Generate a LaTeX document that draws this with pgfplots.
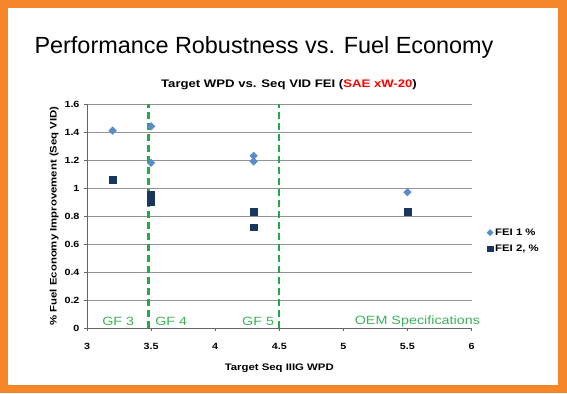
\documentclass[border=0pt]{standalone}
\usepackage{fontspec}
\setmainfont{Liberation Sans}
\newfontfamily\wide{Liberation Sans}[FakeStretch=1.2]
\usepackage{pgfplots}
\pgfplotsset{compat=1.18}
\definecolor{frameorange}{HTML}{F5862A}
\definecolor{feione}{HTML}{5B8BC9}
\definecolor{feitwo}{HTML}{17375E}
\definecolor{gfgreen}{HTML}{22AA4A}
\definecolor{gftext}{HTML}{3DB35A}
\begin{document}
\begin{tikzpicture}[x=1bp,y=1bp]
\fill[frameorange] (0,0) rectangle (567,393);
\fill[white] (8,8) rectangle (558,385);
\node[font=\fontsize{23.5}{26}\selectfont] at (264,346) {Performance Robustness vs. Fuel Economy};
\node[font=\fontsize{11}{12}\selectfont\wide\bfseries] at (289,308) {Target WPD vs. Seq VID FEI (\textcolor{red}{SAE xW-20})};
\begin{axis}[
  at={(87bp,65bp)}, anchor=south west,
  scale only axis, width=384.5bp, height=224bp,
  xmin=3, xmax=6, ymin=0, ymax=1.6,
  xtick={3,3.5,...,6}, ytick={0,0.2,...,1.6},
  xticklabels={3,3.5,4,4.5,5,5.5,6},
  yticklabels={0,0.2,0.4,0.6,0.8,1,1.2,1.4,1.6},
  axis x line*=bottom, axis y line*=left,
  axis line style={gray!80!black, line width=0.6pt},
  tick align=outside, major tick length=3bp,
  tick style={gray!80!black, line width=0.6pt},
  ymajorgrids, grid style={gray!85, line width=0.6pt},
  /pgf/number format/assume math mode=true,
  ticklabel style={font=\fontsize{9}{10}\selectfont\wide\bfseries},
  xticklabel style={yshift=-9bp},
  yticklabel style={xshift=-1bp},
  xlabel={Target Seq IIIG WPD},
  ylabel={\% Fuel Economy Improvement (Seq VID)},
  label style={font=\fontsize{9.5}{10}\selectfont\wide\bfseries},
  xlabel style={yshift=-7bp},
  ylabel style={yshift=-1bp},
  legend style={at={(1.04,0.39)}, anchor=west, draw=none, fill=none,
    font=\fontsize{9.5}{10}\selectfont\wide\bfseries, row sep=4bp,
    legend cell align=left, inner sep=0pt,
    nodes={inner xsep=2bp}},
  legend image post style={scale=0.8},
  clip=false,
]
\addplot[only marks, mark=square*, mark options={rotate=45}, mark size=2.7bp, color=feione] coordinates {
 (3.2,1.41) (3.5,1.44) (3.5,1.18) (4.3,1.23) (4.3,1.19) (5.5,0.97)};
\addlegendentry{FEI 1 \%}
\addplot[only marks, mark=square*, mark size=3.4bp, color=feitwo] coordinates {
 (3.2,1.06) (3.5,0.95) (3.5,0.92) (3.5,0.90) (4.3,0.83) (4.3,0.72) (5.5,0.83)};
\addlegendentry{FEI 2, \%}
\addplot[gfgreen, line width=2.3bp, dash pattern=on 7bp off 4bp, forget plot] coordinates {(3.48,0) (3.48,1.6)};
\addplot[gfgreen, line width=2.3bp, dash pattern=on 7bp off 4bp, forget plot] coordinates {(4.5,0) (4.5,1.6)};
\node[gftext, font=\fontsize{12}{13}\selectfont\wide] at (axis cs:3.244,0.047) {GF 3};
\node[gftext, font=\fontsize{12}{13}\selectfont\wide] at (axis cs:3.657,0.047) {GF 4};
\node[gftext, font=\fontsize{12}{13}\selectfont\wide] at (axis cs:4.335,0.047) {GF 5};
\node[gftext, font=\fontsize{12}{13}\selectfont\wide] at (axis cs:5.578,0.047) {OEM Specifications};
\end{axis}
\end{tikzpicture}
\end{document}
